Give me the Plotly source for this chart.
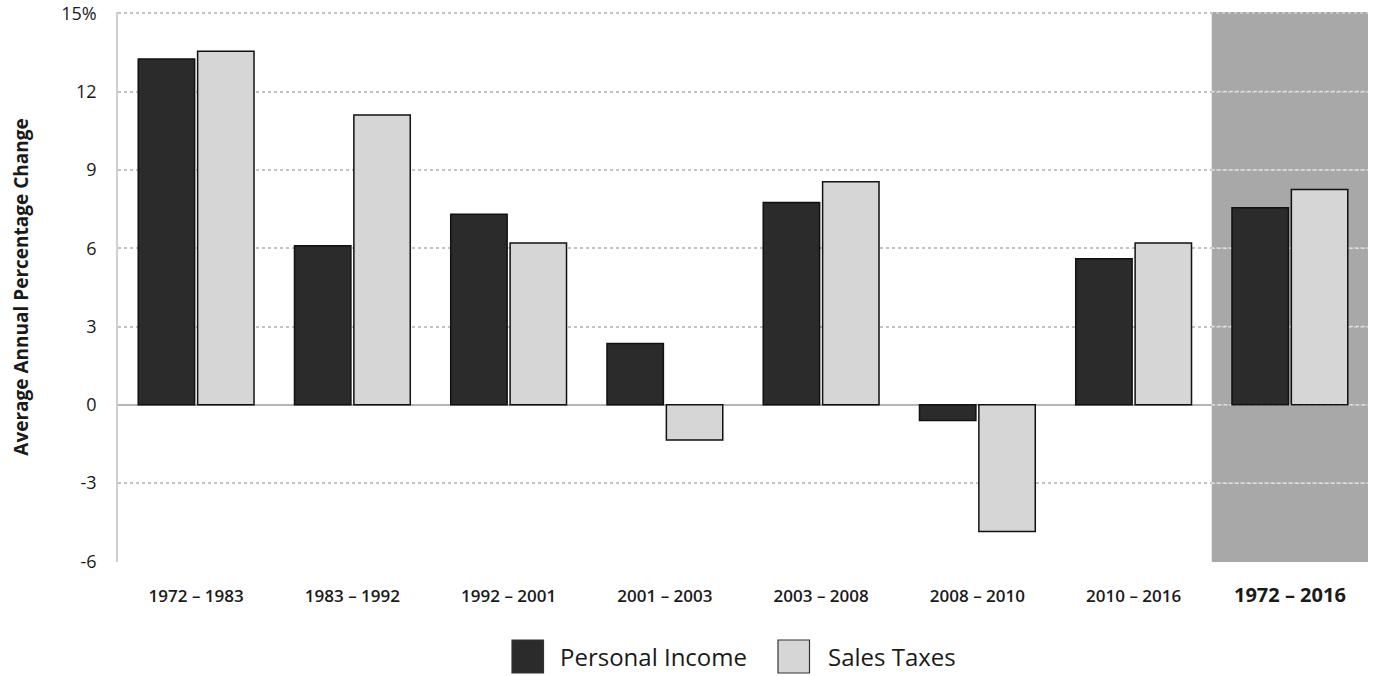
import plotly.graph_objects as go

categories = ["1972 – 1983", "1983 – 1992", "1992 – 2001", "2001 – 2003",
              "2003 – 2008", "2008 – 2010", "2010 – 2016", "1972 – 2016"]
personal_income = [13.25, 6.1, 7.3, 2.35, 7.75, -0.6, 5.6, 7.55]
sales_taxes = [13.55, 11.1, 6.2, -1.35, 8.55, -4.85, 6.2, 8.25]
series_names = ["Personal Income", "Sales Taxes"]
y_ticks = [-6, -3, 0, 3, 6, 9, 12, 15]
y_tick_text = ["-6", "-3", "0", "3", "6", "9", "12", "15%"]
tick_labels = categories[:-1] + [
    '<span style="font-size:20px;font-weight:700">' + categories[-1] + "</span>"]

PI_COLOR = "#2b2b2b"
ST_COLOR = "#d6d6d6"
EDGE = "#111111"

x_idx = list(range(len(categories)))

fig = go.Figure()
fig.add_trace(go.Bar(
    x=x_idx, y=personal_income, name=series_names[0],
    marker=dict(color=PI_COLOR, line=dict(color=EDGE, width=1.5)),
))
fig.add_trace(go.Bar(
    x=x_idx, y=sales_taxes, name=series_names[1],
    marker=dict(color=ST_COLOR, line=dict(color=EDGE, width=1.5)),
))

# shaded highlight of the full-period category
n = len(categories)
fig.add_shape(type="rect", xref="x", yref="paper",
              x0=n - 1.5, x1=n - 0.5, y0=0, y1=1,
              fillcolor="#a8a8a8", line=dict(width=0), layer="between")
# lighter gridlines across the shaded panel
for yv in y_ticks[1:-1]:
    fig.add_shape(type="line", xref="x", yref="y",
                  x0=n - 1.5, x1=n - 0.5, y0=yv, y1=yv,
                  line=dict(color="#e2e2e2", width=1.5, dash="dot"),
                  layer="between")

# legend drawn with large swatches (as in the reference)
legend_items = [(series_names[0], PI_COLOR, 0.3152, 0.352),
                (series_names[1], ST_COLOR, 0.528, 0.5664)]
for name, col, sx, tx in legend_items:
    fig.add_shape(type="rect", xref="paper", yref="paper",
                  x0=sx, x1=sx + 0.0252, y0=-0.2018, y1=-0.1418,
                  fillcolor=col, line=dict(color="#333333", width=1.2))
    fig.add_annotation(xref="paper", yref="paper", x=tx, y=-0.1727,
                       text=name, showarrow=False, xanchor="left", yanchor="middle",
                       font=dict(size=24, color="#1a1a1a"))

fig.update_layout(
    width=1375, height=676,
    margin=dict(l=118, r=7, t=12, b=114, autoexpand=False),
    paper_bgcolor="white", plot_bgcolor="white",
    barmode="group", bargap=0.24, bargroupgap=0.05,
    font=dict(family="Open Sans, Noto Sans, sans-serif", color="#1a1a1a"),
    showlegend=False,
)
fig.update_xaxes(
    tickmode="array", tickvals=x_idx, ticktext=tick_labels,
    range=[-0.5, n - 0.5],
    tickfont=dict(size=17, family="Open Sans, sans-serif", color="#1a1a1a",
                  weight=600),
    showgrid=False, showline=False, ticks="", ticklabelstandoff=22,
    zeroline=False, automargin=False,
)
fig.update_yaxes(
    range=[-6.02, 15.05], tickmode="array", tickvals=y_ticks, ticktext=y_tick_text,
    tickfont=dict(size=18, color="#1a1a1a"), ticklabeloverflow="allow",
    showgrid=True, gridcolor="#c4c4c4", griddash="dot", gridwidth=1.5,
    zeroline=True, zerolinecolor="#b5b5b5", zerolinewidth=1.5,
    showline=True, linecolor="#cfcfcf", linewidth=1.5,
    ticks="", ticklabelstandoff=16, automargin=False,
    title=dict(text="<b>Average Annual Percentage Change</b>",
               font=dict(size=19, color="#1a1a1a"), standoff=28),
)
fig.write_html("out.html", config={"displayModeBar": False},
               post_script="document.body.style.margin='0';document.body.style.padding='0';")
